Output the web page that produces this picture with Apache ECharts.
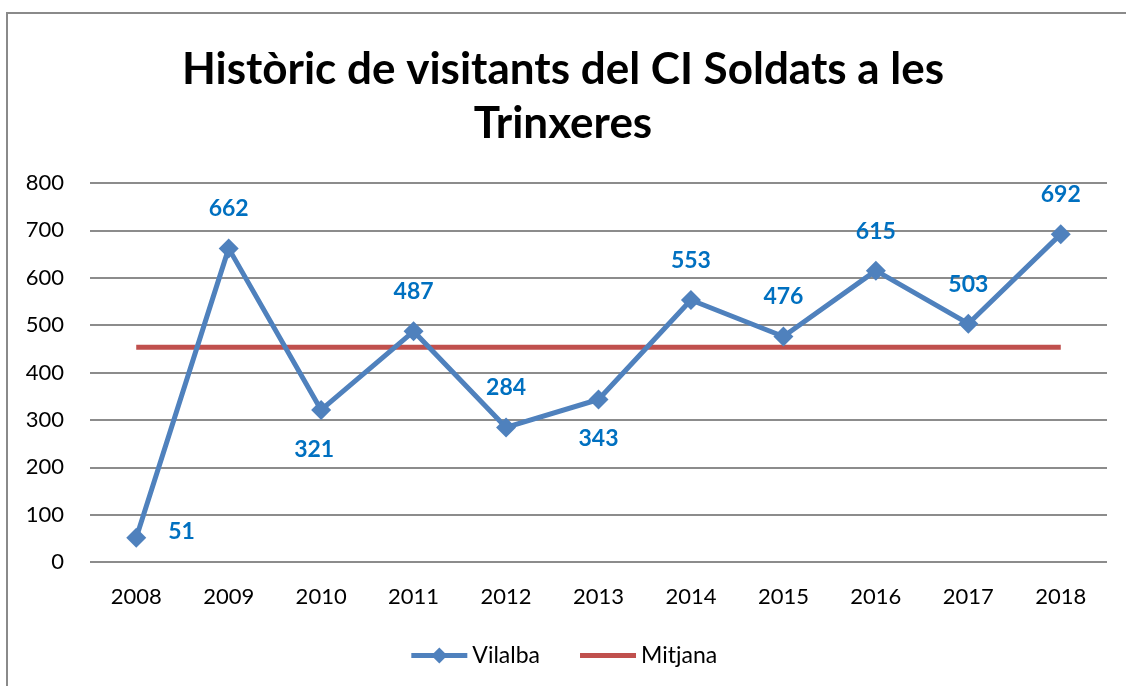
<!DOCTYPE html>
<html lang="ca">
<head>
    <meta charset="utf-8">
    <title>Històric de visitants</title>
    <script src="https://cdn.jsdelivr.net/npm/echarts@6/dist/echarts.min.js"></script>
    <style>
        html, body { margin: 0; padding: 0; background: #fff; }
        #main { width: 1126px; height: 686px; }
    </style>
</head>
<body>
<div id="main"></div>
<script>
    // dades
    var years = ['2008', '2009', '2010', '2011', '2012', '2013', '2014', '2015', '2016', '2017', '2018'];
    var vilalba = [51, 662, 321, 487, 284, 343, 553, 476, 615, 503, 692];
    var mitjana = [453.4, 453.4, 453.4, 453.4, 453.4, 453.4, 453.4, 453.4, 453.4, 453.4, 453.4];
    var yTicks = [0, 100, 200, 300, 400, 500, 600, 700, 800];

    // on va cada etiqueta (com a l'original)
    var labelPlace = ['right', 'top', 'bottom', 'top', 'top', 'bottom', 'top', 'top', 'top', 'top', 'top'];

    var font = 'Lato, "Open Sans", sans-serif';
    var chart = echarts.init(document.getElementById('main'));

    var vilalbaData = vilalba.map(function (v, i) {
        var pos = labelPlace[i];
        var lab = { position: pos, distance: pos == 'right' ? 22 : 18 };
        if (i == 2) lab.offset = [-7, 0];
        if (i == 0) lab.offset = [0, -6];
        return { value: v, label: lab };
    });

    var option = {
        animation: false,
        title: {
            text: 'Històric de visitants del CI Soldats a les\nTrinxeres',
            left: 'center',
            top: 38,
            padding: [5, 0, 5, 16],
            textStyle: {
                fontFamily: font,
                fontWeight: 'bold',
                fontSize: 44,
                lineHeight: 54,
                color: '#000'
            }
        },
        graphic: [{
            type: 'rect',
            shape: { x: 7, y: 13, width: 1200, height: 700 },
            style: { fill: null, stroke: '#8a8a8a', lineWidth: 2 },
            silent: true
        }],
        legend: {
            bottom: 14,
            left: 'center',
            itemWidth: 56,
            itemHeight: 20,
            itemGap: 40,
            textStyle: { fontFamily: font, fontSize: 23, color: '#000' },
            data: [
                { name: 'Vilalba', lineStyle: { width: 5 } },
                { name: 'Mitjana', icon: 'path://M0,0 L56,0 L56,5 L0,5 Z' }
            ]
        },
        grid: { left: 90, right: 19, top: 183, bottom: 124 },
        xAxis: {
            type: 'category',
            data: years,
            boundaryGap: true,
            axisLine: { show: false },
            axisTick: { show: false },
            axisLabel: { fontFamily: font, fontSize: 22, color: '#000', margin: 24 }
        },
        yAxis: {
            type: 'value',
            min: 0,
            max: 800,
            interval: 100,
            axisLine: { show: false },
            axisTick: { show: false },
            axisLabel: {
                fontFamily: font, fontSize: 22, color: '#000', margin: 26, align: 'right',
                formatter: function (v) { return yTicks.indexOf(v) >= 0 ? String(v) : ''; }
            },
            splitLine: { lineStyle: { color: '#8c8c8c', width: 2 } }
        },
        series: [{
            name: 'Vilalba',
            type: 'line',
            data: vilalbaData,
            symbol: 'diamond',
            symbolSize: 20,
            lineStyle: { color: '#4F81BD', width: 5 },
            itemStyle: { color: '#4F81BD' },
            label: {
                show: true,
                fontFamily: font,
                fontWeight: 'bold',
                fontSize: 23,
                color: '#0070C0'
            },
            z: 3
        }, {
            name: 'Mitjana',
            type: 'line',
            data: mitjana,
            symbol: 'none',
            lineStyle: { color: '#C0504D', width: 5 },
            itemStyle: { color: '#C0504D' },
            z: 2
        }]
    };
    chart.setOption(option);
</script>
</body>
</html>
